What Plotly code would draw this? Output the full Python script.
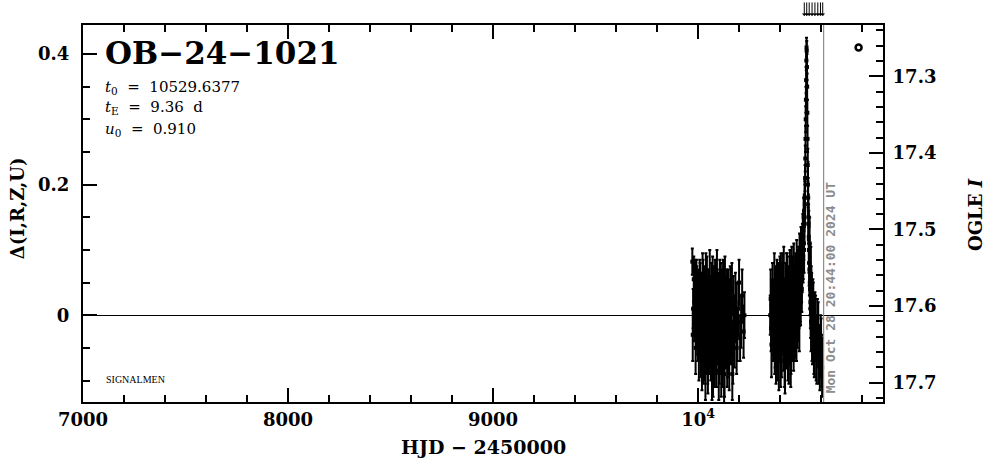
import plotly.graph_objects as go

# ---- data ----
t1 = [9972, 9976, 9981, 9985, 9990, 9994, 9998, 10002, 10006, 10010, 10013, 10017, 10020, 10024, 10027,
      10031, 10034, 10038, 10041, 10045, 10048, 10052, 10055, 10059, 10062, 10066, 10069, 10073, 10076,
      10080, 10083, 10087, 10090, 10094, 10097, 10101, 10104, 10108, 10111, 10115, 10118, 10122, 10125,
      10129, 10132, 10136, 10140, 10144, 10148, 10152, 10157, 10162, 10167, 10172, 10178, 10185, 10192,
      10200, 10210, 10222]
v1 = [0.082, 0.010, -0.005, 0.045, -0.020, 0.030, -0.035, 0.015, -0.010, 0.040, -0.045, 0.005, -0.025,
      0.035, -0.060, 0.020, -0.015, 0.050, -0.040, 0.000, -0.070, 0.025, -0.030, 0.010, -0.055, 0.030,
      -0.020, -0.075, 0.015, -0.040, 0.040, -0.010, -0.065, 0.020, -0.030, -0.085, 0.005, -0.045, 0.030,
      -0.015, -0.060, 0.045, -0.025, -0.080, 0.010, -0.035, 0.020, -0.050, 0.000, -0.070, 0.035, -0.020,
      -0.090, 0.015, -0.040, 0.005, -0.030, 0.050, -0.010, -0.025]
e1 = [0.020, 0.030, 0.035, 0.040, 0.030, 0.045, 0.035, 0.040, 0.045, 0.040, 0.050, 0.045, 0.040, 0.050,
      0.045, 0.050, 0.040, 0.045, 0.050, 0.045, 0.050, 0.045, 0.040, 0.050, 0.045, 0.050, 0.045, 0.050,
      0.045, 0.050, 0.045, 0.050, 0.045, 0.050, 0.045, 0.045, 0.050, 0.045, 0.050, 0.045, 0.050, 0.040,
      0.045, 0.045, 0.050, 0.045, 0.050, 0.045, 0.040, 0.045, 0.040, 0.045, 0.040, 0.045, 0.040, 0.045,
      0.040, 0.035, 0.040, 0.040]

t1b = [9974, 9979, 9983, 9988, 9992, 9996, 10000, 10004, 10008, 10011, 10015, 10019, 10022, 10026, 10029,
       10033, 10036, 10040, 10043, 10047, 10050, 10054, 10057, 10061, 10064, 10068, 10071, 10075, 10078,
       10082, 10085, 10089, 10092, 10096, 10099, 10103, 10106, 10110, 10113, 10117, 10120, 10124, 10127,
       10131, 10134, 10138, 10142, 10146, 10150, 10155, 10160, 10165, 10170, 10175, 10182, 10188, 10196,
       10205, 10215, 10226]
v1b = [-0.030, 0.055, 0.020, -0.050, 0.040, -0.010, 0.025, -0.060, 0.035, -0.025, 0.015, -0.070, 0.045,
       -0.005, -0.050, 0.030, -0.080, 0.010, 0.040, -0.060, 0.020, -0.045, 0.050, -0.015, 0.005, -0.085,
       0.040, -0.030, 0.025, -0.065, 0.010, -0.045, 0.050, -0.020, 0.015, -0.060, 0.035, -0.010, -0.075,
       0.025, -0.040, 0.010, -0.090, 0.040, -0.020, 0.000, -0.065, 0.030, -0.045, 0.015, -0.030, 0.040,
       -0.060, -0.010, 0.020, -0.050, 0.010, -0.035, 0.030, 0.000]
e1b = [0.040, 0.035, 0.045, 0.040, 0.045, 0.050, 0.045, 0.040, 0.050, 0.045, 0.050, 0.045, 0.050, 0.045,
       0.050, 0.045, 0.050, 0.045, 0.050, 0.045, 0.050, 0.045, 0.050, 0.045, 0.050, 0.045, 0.050, 0.045,
       0.050, 0.045, 0.050, 0.045, 0.050, 0.045, 0.050, 0.045, 0.050, 0.045, 0.050, 0.045, 0.050, 0.045,
       0.045, 0.050, 0.045, 0.050, 0.045, 0.040, 0.045, 0.040, 0.045, 0.040, 0.045, 0.040, 0.045, 0.040,
       0.040, 0.035, 0.040, 0.035]

t2 = [10352, 10356, 10361, 10366, 10370, 10374, 10378, 10382, 10385, 10389, 10392, 10396, 10399, 10403,
      10406, 10410, 10413, 10417, 10420, 10424, 10427, 10431, 10434, 10438, 10441, 10445, 10448, 10452,
      10455, 10459, 10462, 10466, 10469, 10473, 10476, 10480, 10483, 10487, 10490, 10494, 10497, 10500,
      10503, 10506, 10509, 10512, 10514, 10516, 10518, 10520, 10522, 10523, 10524, 10525, 10526, 10527,
      10528, 10529, 10530, 10531, 10532, 10533, 10534, 10535, 10537, 10539, 10541, 10543, 10546, 10549,
      10552, 10556, 10560, 10565, 10570, 10576, 10582, 10590, 10598, 10603]
v2 = [0.000, -0.020, 0.015, -0.035, 0.010, -0.050, 0.030, -0.015, 0.040, -0.060, 0.005, -0.030, 0.045,
      -0.070, 0.020, -0.010, 0.050, -0.045, 0.010, -0.080, 0.035, -0.020, 0.055, -0.055, 0.015, -0.030,
      0.060, -0.065, 0.025, -0.010, 0.050, -0.040, 0.030, -0.020, 0.060, -0.030, 0.045, 0.000, 0.070,
      -0.015, 0.065, 0.020, 0.090, 0.040, 0.110, 0.080, 0.130, 0.110, 0.160, 0.180, 0.210, 0.240, 0.270,
      0.300, 0.330, 0.360, 0.390, 0.410, 0.405, 0.380, 0.350, 0.310, 0.270, 0.230, 0.180, 0.140, 0.100,
      0.070, 0.040, 0.010, 0.030, -0.020, 0.010, -0.040, -0.010, -0.050, -0.020, -0.060, -0.040, -0.070]
e2 = [0.030, 0.035, 0.040, 0.035, 0.045, 0.040, 0.045, 0.040, 0.045, 0.040, 0.045, 0.040, 0.045, 0.040,
      0.045, 0.040, 0.045, 0.040, 0.045, 0.040, 0.045, 0.040, 0.040, 0.045, 0.040, 0.045, 0.040, 0.045,
      0.040, 0.045, 0.040, 0.045, 0.040, 0.045, 0.035, 0.040, 0.035, 0.040, 0.035, 0.040, 0.035, 0.035,
      0.030, 0.035, 0.030, 0.030, 0.030, 0.025, 0.025, 0.025, 0.020, 0.020, 0.020, 0.020, 0.020, 0.020,
      0.015, 0.015, 0.015, 0.020, 0.020, 0.020, 0.020, 0.025, 0.030, 0.030, 0.035, 0.040, 0.040, 0.045,
      0.045, 0.050, 0.045, 0.050, 0.045, 0.050, 0.045, 0.045, 0.040, 0.040]

t2b = [10354, 10358, 10363, 10368, 10372, 10376, 10380, 10383, 10387, 10390,
       10394, 10398, 10401, 10404, 10408, 10411, 10415, 10418, 10422, 10425,
       10429, 10432, 10436, 10439, 10443, 10446, 10450, 10453, 10457, 10460,
       10464, 10467, 10471, 10474, 10478, 10481, 10485, 10488, 10492, 10495,
       10499, 10502, 10505, 10508, 10511, 10513, 10515, 10517, 10519, 10521,
       10536, 10538, 10540, 10542, 10544, 10545, 10547, 10548, 10550, 10551,
       10554, 10558, 10562, 10567, 10573, 10579, 10586, 10594, 10600, 10605]
v2b = [0.025, -0.045, 0.035, -0.010, 0.050, -0.030, -0.060, 0.020, -0.040, 0.030,
       -0.070, 0.010, -0.025, 0.045, -0.050, 0.030, -0.015, 0.055, -0.065, 0.005,
       -0.035, 0.045, -0.010, 0.025, -0.060, 0.040, 0.005, -0.040, 0.060, -0.020,
       0.030, 0.070, -0.025, 0.050, 0.010, 0.075, -0.005, 0.060, 0.025, 0.085,
       0.030, 0.100, 0.060, 0.070, 0.120, 0.090, 0.150, 0.100, 0.140, 0.170,
       0.200, 0.150, 0.120, 0.080, 0.110, 0.050, 0.070, 0.020, 0.060, -0.010,
       0.020, -0.030, 0.000, -0.050, -0.020, -0.060, -0.030, -0.070, -0.050, -0.080]
e2b = [0.045, 0.050, 0.045, 0.050, 0.045, 0.050, 0.045, 0.050, 0.045, 0.050,
       0.045, 0.050, 0.045, 0.050, 0.045, 0.050, 0.045, 0.050, 0.045, 0.050,
       0.045, 0.050, 0.045, 0.050, 0.045, 0.050, 0.045, 0.050, 0.045, 0.050,
       0.045, 0.040, 0.045, 0.040, 0.045, 0.040, 0.045, 0.040, 0.045, 0.040,
       0.040, 0.035, 0.040, 0.035, 0.035, 0.035, 0.030, 0.035, 0.030, 0.030,
       0.035, 0.035, 0.040, 0.035, 0.040, 0.040, 0.040, 0.040, 0.045, 0.045,
       0.045, 0.045, 0.050, 0.045, 0.050, 0.045, 0.050, 0.045, 0.045, 0.045]

arrow_times = [10518, 10530, 10542, 10556, 10570, 10584, 10597, 10608]
now_hjd = 10612.36
marker_pt = (10783, 0.410)

x_range = [7000, 10902]
y_range = [-0.1329, 0.4444]
mag_range = [17.7254, 17.2329]

BLACK = "black"
GRAY = "#8c8c8c"
SERIF = "DejaVu Serif"

fig = go.Figure()

for tt, vv, ee in [(t1, v1, e1), (t1b, v1b, e1b), (t2b, v2b, e2b), (t2, v2, e2)]:
    fig.add_trace(go.Scatter(
        x=tt, y=vv, mode="markers",
        marker=dict(color=BLACK, size=4, symbol="square"),
        error_y=dict(type="data", array=ee, visible=True, color=BLACK, thickness=2, width=1.5),
        showlegend=False, cliponaxis=True))

fig.add_trace(go.Scatter(x=[marker_pt[0]], y=[marker_pt[1]], mode="markers",
                         marker=dict(symbol="circle-open", size=6, color=BLACK, line=dict(width=2.5)),
                         showlegend=False))

# dummy trace for right axis
fig.add_trace(go.Scatter(x=[None], y=[None], yaxis="y2", showlegend=False, hoverinfo="skip"))

fig.add_shape(type="line", xref="x", yref="paper", x0=now_hjd, x1=now_hjd, y0=0, y1=1,
              line=dict(color=GRAY, width=1.2))

for at in arrow_times:
    fig.add_annotation(x=at, y=1.024, xref="x", yref="paper", text="", showarrow=True,
                       ax=0, ay=-15, arrowhead=1, arrowsize=0.8, arrowwidth=1, arrowcolor=BLACK)

anns = [
    dict(text="OB−24−1021", x=0.025, y=0.9257, xanchor="left", yanchor="middle",
         font=dict(family=SERIF, size=31, color=BLACK, weight="bold")),
    dict(text="<i>t</i><sub>0</sub>  =  10529.6377", x=0.025, y=0.8355, xanchor="left", yanchor="middle",
         font=dict(family=SERIF, size=15, color=BLACK)),
    dict(text="<i>t</i><sub>E</sub>  =  9.36  d", x=0.025, y=0.780, xanchor="left", yanchor="middle",
         font=dict(family=SERIF, size=15, color=BLACK)),
    dict(text="<i>u</i><sub>0</sub>  =  0.910", x=0.025, y=0.7215, xanchor="left", yanchor="middle",
         font=dict(family=SERIF, size=15, color=BLACK)),
    dict(text="SIGNALMEN", x=0.026, y=0.0584, xanchor="left", yanchor="middle",
         font=dict(family="Liberation Serif", size=10, color=BLACK)),
    dict(text="HJD − 2450000", x=0.5, y=-0.1194, xanchor="center", yanchor="middle",
         font=dict(family=SERIF, size=19, color=BLACK, weight="bold")),
    dict(text="Δ(I,R,Z,U)", x=-0.081, y=0.5146, xanchor="center", yanchor="middle", textangle=-90,
         font=dict(family=SERIF, size=18, color=BLACK, weight="bold")),
    dict(text="OGLE <i>I</i>", x=1.115, y=0.496, xanchor="center", yanchor="middle", textangle=-90,
         font=dict(family=SERIF, size=18, color=BLACK, weight="bold")),
    dict(text="Mon Oct 28 20:44:00 2024 UT", x=0.934, y=0.302, xanchor="center", yanchor="middle",
         textangle=-90, font=dict(family="DejaVu Sans Mono", size=13, color=GRAY, weight="bold")),
]
for a in anns:
    fig.add_annotation(xref="paper", yref="paper", showarrow=False, **a)

tickfont = dict(family=SERIF, size=18, color=BLACK, weight="bold")

fig.update_layout(
    width=986, height=459,
    margin=dict(l=83, r=103, t=25, b=57, autoexpand=False),
    paper_bgcolor="white", plot_bgcolor="white",
    showlegend=False,
    xaxis=dict(range=x_range, showgrid=False, zeroline=False, showline=True, linecolor=BLACK,
               linewidth=2, mirror="ticks", ticks="inside", ticklen=14, tickwidth=2, tickcolor=BLACK,
               tickmode="array", tickvals=[7000, 8000, 9000, 10000], automargin=False,
               ticktext=["7000", "8000", "9000", "10<sup>4</sup>"], tickfont=tickfont,
               minor=dict(tickmode="linear", tick0=7000, dtick=200, ticks="inside", ticklen=7,
                          tickwidth=2, tickcolor=BLACK, showgrid=False)),
    yaxis=dict(range=y_range, showgrid=False, zeroline=True, zerolinecolor=BLACK, zerolinewidth=1,
               showline=True, linecolor=BLACK, linewidth=2, mirror=False, ticks="inside", ticklen=14,
               tickwidth=2, tickcolor=BLACK, tickmode="linear", tick0=0, dtick=0.2, tickfont=tickfont,
               ticklabelstandoff=8, automargin=False,
               minor=dict(tickmode="linear", tick0=0, dtick=0.05, ticks="inside", ticklen=7,
                          tickwidth=2, tickcolor=BLACK, showgrid=False)),
    yaxis2=dict(range=mag_range, overlaying="y", side="right", anchor="x", showgrid=False,
                zeroline=False, showline=True, linecolor=BLACK, linewidth=2, ticks="inside",
                ticklen=14, tickwidth=2, tickcolor=BLACK, tickmode="linear", tick0=17.3, dtick=0.1,
                tickformat=".1f", tickfont=tickfont, ticklabelstandoff=4, automargin=False,
                minor=dict(tickmode="linear", tick0=17.3, dtick=0.02, ticks="inside", ticklen=7,
                           tickwidth=2, tickcolor=BLACK, showgrid=False)),
)

fig.write_html("out.html", config={"displayModeBar": False},
               post_script="document.body.style.margin='0';document.body.style.overflow='hidden';")
